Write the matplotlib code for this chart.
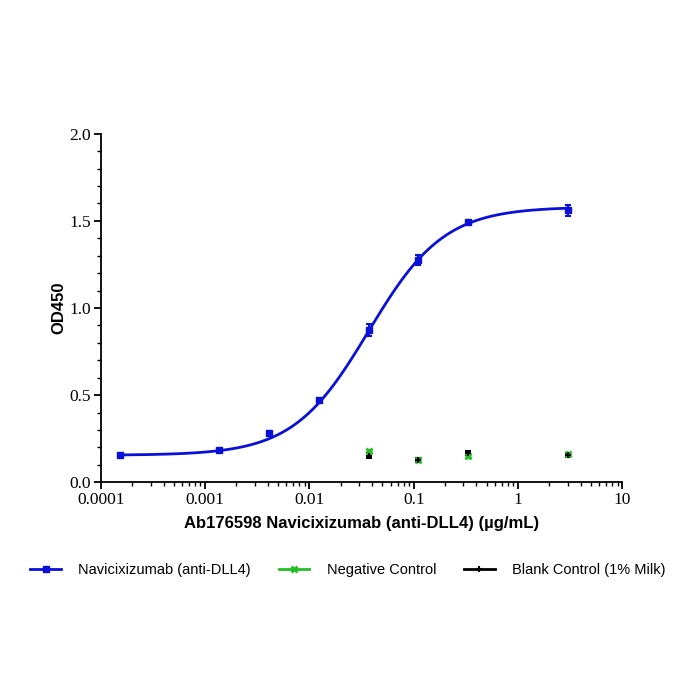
import matplotlib
matplotlib.use('Agg')
import matplotlib.pyplot as plt
import numpy as np
from matplotlib.ticker import LogLocator, FixedLocator, NullFormatter

# concentrations (ug/mL)
conc_ab = [0.000152, 0.00137, 0.00412, 0.0123, 0.037, 0.111, 0.333, 3.0]
od_ab = [0.155, 0.183, 0.280, 0.470, 0.875, 1.275, 1.492, 1.560]
err_ab = [0.008, 0.008, 0.015, 0.010, 0.035, 0.030, 0.010, 0.030]

conc_ctrl = [0.037, 0.111, 0.333, 3.0]
od_neg = [0.178, 0.130, 0.152, 0.160]
err_neg = [0.008, 0.008, 0.008, 0.006]
od_blank = [0.152, 0.130, 0.168, 0.155]
err_blank = [0.015, 0.008, 0.010, 0.008]

# 4PL fit parameters for the antibody curve
bottom, top, ec50, hill = 0.155, 1.58, 0.037, 1.2

BLUE = '#0a10d8'
GREEN = '#22c022'

fig = plt.figure(figsize=(7, 7), dpi=100)
ax = fig.add_axes([0.144, 0.311, 0.745, 0.498])

xs = np.logspace(np.log10(conc_ab[0]), np.log10(conc_ab[-1]), 300)
fit = bottom + (top - bottom) / (1 + (ec50 / xs) ** hill)
ax.plot(xs, fit, color=BLUE, lw=2)

ax.errorbar(conc_ab, od_ab, yerr=err_ab, fmt='s', color=BLUE, ms=4.5,
            capsize=2.5, elinewidth=1.5, capthick=1.5)
ax.errorbar(conc_ctrl, od_neg, yerr=err_neg, fmt='x', color=GREEN, ms=5,
            mew=2, capsize=2, elinewidth=1.2)
ax.errorbar(conc_ctrl, od_blank, yerr=err_blank, fmt='+', color='black', ms=5,
            mew=1.5, capsize=2, elinewidth=1.2)

ax.set_xscale('log')
ax.set_xlim(0.0001, 10)
ax.set_ylim(0, 2.0)
ax.set_xticks([0.0001, 0.001, 0.01, 0.1, 1, 10])
ax.set_xticklabels(['0.0001', '0.001', '0.01', '0.1', '1', '10'])
ax.xaxis.set_minor_locator(LogLocator(base=10, subs=np.arange(2, 10), numticks=20))
ax.xaxis.set_minor_formatter(NullFormatter())
ax.set_yticks([0, 0.5, 1.0, 1.5, 2.0])
ax.set_yticklabels(['0.0', '0.5', '1.0', '1.5', '2.0'])
ax.yaxis.set_minor_locator(FixedLocator(np.arange(0, 2.01, 0.1)))

for s in ['top', 'right']:
    ax.spines[s].set_visible(False)
for s in ['left', 'bottom']:
    ax.spines[s].set_linewidth(1.3)
ax.tick_params(which='major', direction='out', length=5, width=1.3,
               labelsize=12.5, pad=2)
ax.tick_params(which='minor', direction='out', length=3, width=1)
for lab in ax.get_xticklabels() + ax.get_yticklabels():
    lab.set_family('Liberation Serif')

ax.set_xlabel('Ab176598 Navicixizumab (anti-DLL4) (\u00b5g/mL)', family='Liberation Sans',
              fontweight='bold', fontsize=12, labelpad=6)
ax.set_ylabel('OD450', family='Liberation Sans', fontweight='bold', fontsize=12, labelpad=2)

h1 = plt.Line2D([], [], color=BLUE, lw=2, marker='s', ms=4)
h2 = plt.Line2D([], [], color=GREEN, lw=2, marker='x', ms=4, mew=2)
h3 = plt.Line2D([], [], color='black', lw=2, marker='+', ms=5, mew=1.5)
fig.legend([h1, h2, h3],
           ['Navicixizumab (anti-DLL4)', 'Negative Control', 'Blank Control (1% Milk)'],
           loc='center', bbox_to_anchor=(0.497, 0.186), ncol=3, frameon=False,
           prop={'family': 'Liberation Sans', 'size': 10.5}, handlelength=2.1,
           columnspacing=1.9, handletextpad=1.2)

fig.savefig('out.png', dpi=100)
